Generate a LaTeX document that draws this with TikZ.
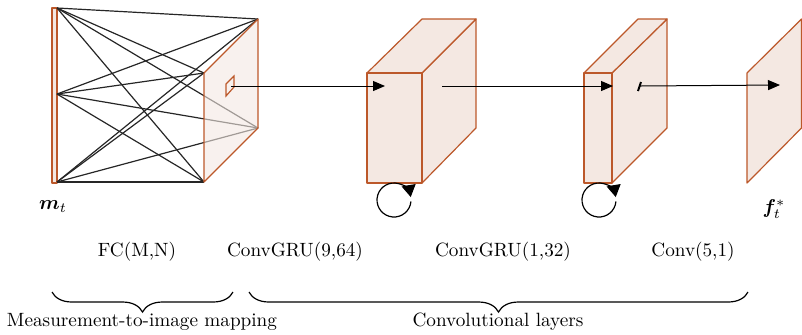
\documentclass[tikz,border=0pt]{standalone}
\usepackage{amsmath,bm}
\usetikzlibrary{arrows.meta,decorations.pathreplacing}

\definecolor{edgeorange}{RGB}{188,88,42}
\definecolor{facefill}{RGB}{244,232,226}

\begin{document}
\begin{tikzpicture}[x=0.5pt, y=-0.5pt,
    every node/.style={font=\fontsize{9.6pt}{11.5pt}\selectfont, inner sep=0pt},
    face/.style={draw=edgeorange, fill=facefill, line width=0.6pt, line join=round},
    link/.style={black!85, line width=0.6pt},
    flow/.style={-{Triangle[length=6pt, width=5pt]}, line width=0.5pt},
    recur/.style={-{Triangle[length=6pt, width=7pt]}, line width=0.6pt},
    under/.style={decorate, decoration={brace, mirror, amplitude=10pt}, line width=0.6pt}
  ]
  \useasboundingbox (0,0) rectangle (802,334);

  % measurement vector and fully connected links
  \draw[face] (52,8) rectangle (57,183);
  \foreach \n/\y in {a/8, b/94, c/182}
    \coordinate (in\n) at (57,\y);
  \coordinate (f1) at (204,73);
  \coordinate (f2) at (258,19);
  \coordinate (f3) at (258,128);
  \coordinate (f4) at (204,182);
  \foreach \n in {a,b,c}
    \foreach \k in {1,...,4}
      \draw[link] (in\n) -- (f\k);
  \draw[face, fill opacity=0.6] (f1) -- (f2) -- (f3) -- (f4) -- cycle;
  \draw[draw=edgeorange, line width=0.6pt] (226,84) -- (234,76) -- (234,87) -- (226,96) -- cycle;
  \coordinate (p1) at (231,86);

  % ConvGRU(9,64)
  \draw[face] (422,73) -- (476,19) -- (476,128) -- (422,183) -- cycle;
  \draw[face] (367,73) -- (422,19) -- (476,19) -- (422,73) -- cycle;
  \draw[face] (367,73) rectangle (422,183);

  % ConvGRU(1,32)
  \draw[face] (612,73) -- (667,19) -- (667,128) -- (612,183) -- cycle;
  \draw[face] (584,73) -- (638,19) -- (667,19) -- (612,73) -- cycle;
  \draw[face] (584,73) rectangle (612,183);
  \draw[line width=1pt] (638,91) -- (641,82);

  % output image
  \draw[face] (747,73) -- (801.5,19) -- (801.5,128) -- (747,183) -- cycle;

  % data flow
  \coordinate (g1) at (385,86);
  \coordinate (o2) at (442,86);
  \coordinate (g2) at (613,86);
  \coordinate (o3) at (640,86);
  \coordinate (g3) at (780,85);
  \draw[flow] (p1) -- (g1);
  \draw[flow] (o2) -- (g2);
  \draw[flow] (o3) -- (g3);

  % recurrent loops
  \coordinate (r2) at (394,200);
  \coordinate (r3) at (599,200);
  \draw[recur] (r2) ++(5:17) arc[start angle=5, end angle=350, radius=17];
  \draw[recur] (r3) ++(5:17) arc[start angle=5, end angle=350, radius=17];

  % labels
  \node (mt) at (53,207) {$\boldsymbol{m}_t$};
  \node (ft) at (774,209) {$\boldsymbol{f}_t^*$};
  \node (fc)  at (137,252) {FC(M,N)};
  \node (cg1) at (295,252) {ConvGRU(9,64)};
  \node (cg2) at (503,252) {ConvGRU(1,32)};
  \node (cv)  at (693,252) {Conv(5,1)};

  % groups
  \coordinate (b1l) at (52,292);
  \coordinate (b1r) at (233,292);
  \coordinate (b2l) at (249,292);
  \coordinate (b2r) at (748,292);
  \draw[under] (b1l) -- (b1r);
  \draw[under] (b2l) -- (b2r);
  \node (mm) at (142,322) {Measurement-to-image mapping};
  \node (cl) at (498,322) {Convolutional layers};
\end{tikzpicture}
\end{document}
